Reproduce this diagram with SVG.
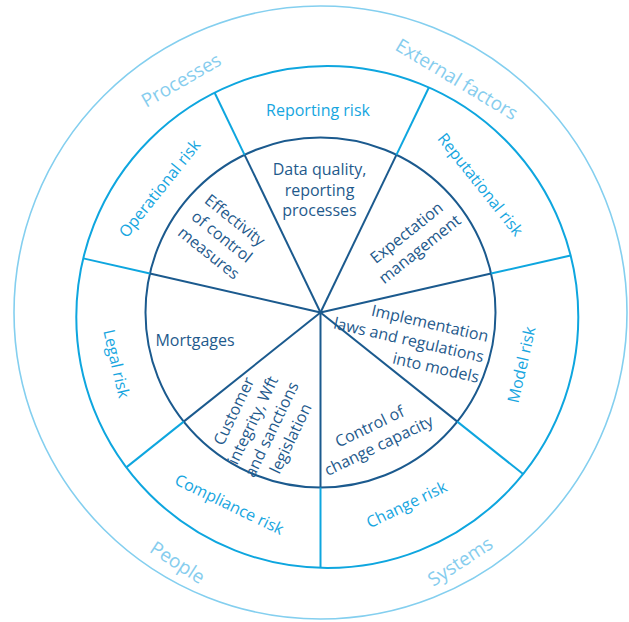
<svg xmlns="http://www.w3.org/2000/svg" width="629" height="622" viewBox="0 0 629 622">
<style>
  text { font-family: "Open Sans", "Liberation Sans", sans-serif; }
  .c-out { fill: none; stroke: #84cfef; stroke-width: 1.6; }
  .c-mid { fill: none; stroke: #0ea6df; stroke-width: 2; }
  .c-in { fill: none; stroke: #1b5a8e; stroke-width: 2; }
  .sp-in { stroke: #1b5a8e; stroke-width: 2; }
  .sp-out { stroke: #0ea6df; stroke-width: 2; }
  .t-in { fill: #1f5a8c; font-size: 16px; }
  .t-ring { fill: #17a6df; font-size: 16px; }
  .t-out { fill: #86cdee; font-size: 19px; }
</style>
<rect width="629" height="622" fill="#ffffff"/>
<g id="rings">
  <circle class="c-out" cx="320.5" cy="312.5" r="306.5"/>
  <circle class="c-mid" cx="327.3" cy="317" r="251"/>
  <circle class="c-in" cx="320.5" cy="312.5" r="175"/>
</g>
<g id="connectors">
  <g id="spokes-inner">
    <line class="sp-in" x1="320.5" y1="312.5" x2="320.5" y2="487.5"/>
    <line class="sp-in" x1="320.5" y1="312.5" x2="183.68" y2="421.61"/>
    <line class="sp-in" x1="320.5" y1="312.5" x2="149.89" y2="273.56"/>
    <line class="sp-in" x1="320.5" y1="312.5" x2="244.57" y2="154.83"/>
    <line class="sp-in" x1="320.5" y1="312.5" x2="396.43" y2="154.83"/>
    <line class="sp-in" x1="320.5" y1="312.5" x2="491.11" y2="273.56"/>
    <line class="sp-in" x1="320.5" y1="312.5" x2="457.32" y2="421.61"/>
  </g>
  <g id="spokes-outer">
    <line class="sp-out" x1="320.5" y1="487.5" x2="320.5" y2="567.91"/>
    <line class="sp-out" x1="183.68" y1="421.61" x2="126.32" y2="467.36"/>
    <line class="sp-out" x1="149.89" y1="273.56" x2="83.25" y2="258.35"/>
    <line class="sp-out" x1="244.57" y1="154.83" x2="214.65" y2="92.70"/>
    <line class="sp-out" x1="396.43" y1="154.83" x2="428.87" y2="87.46"/>
    <line class="sp-out" x1="491.11" y1="273.56" x2="570.63" y2="255.41"/>
    <line class="sp-out" x1="457.32" y1="421.61" x2="523.09" y2="474.06"/>
  </g>
</g>
<g id="outer-labels">
  <g id="processes"><text class="t-out" text-anchor="middle" transform="translate(184.5,86) rotate(-30)">Processes</text></g>
  <g id="external-factors"><text class="t-out" text-anchor="middle" transform="translate(453.4,85) rotate(31)">External factors</text></g>
  <g id="people"><text class="t-out" text-anchor="middle" transform="translate(174,568) rotate(33)">People</text></g>
  <g id="systems"><text class="t-out" text-anchor="middle" transform="translate(463.8,567) rotate(-33)">Systems</text></g>
</g>
<g id="ring-labels">
  <g id="reporting-risk"><text class="t-ring" text-anchor="middle" transform="translate(318,115.5)">Reporting risk</text></g>
  <g id="reputational-risk"><text class="t-ring" text-anchor="middle" transform="translate(476,188) rotate(51.43)">Reputational risk</text></g>
  <g id="model-risk"><text class="t-ring" text-anchor="middle" transform="translate(527,366) rotate(-77.14)">Model risk</text></g>
  <g id="change-risk"><text class="t-ring" text-anchor="middle" transform="translate(409,509.5) rotate(-25.71)">Change risk</text></g>
  <g id="compliance-risk"><text class="t-ring" text-anchor="middle" transform="translate(227,509.5) rotate(25.71)">Compliance risk</text></g>
  <g id="legal-risk"><text class="t-ring" text-anchor="middle" transform="translate(111,365) rotate(77.14)">Legal risk</text></g>
  <g id="operational-risk"><text class="t-ring" text-anchor="middle" transform="translate(164,192) rotate(-51.43)">Operational risk</text></g>
</g>
<g id="inner-labels">
  <g id="data-quality"><text class="t-in" text-anchor="middle" transform="translate(319.5,175)"><tspan x="0" dy="0">Data quality,</tspan><tspan x="0" dy="20.5">reporting</tspan><tspan x="0" dy="20.5">processes</tspan></text></g>
  <g id="expectation"><text class="t-in" text-anchor="middle" transform="translate(410,237) rotate(-38.57)"><tspan x="0" dy="0">Expectation</tspan><tspan x="0" dy="21">management</tspan></text></g>
  <g id="implementation"><text class="t-in" text-anchor="end" transform="translate(487,342) rotate(12.86)"><tspan x="0" dy="0">Implementation</tspan><tspan x="0" dy="21">laws and regulations</tspan><tspan x="0" dy="21">into models</tspan></text></g>
  <g id="control-change"><text class="t-in" text-anchor="middle" transform="translate(372,431.5) rotate(-25.71)"><tspan x="0" dy="0">Control of</tspan><tspan x="0" dy="21">change capacity</tspan></text></g>
  <g id="customer-integrity"><text class="t-in" text-anchor="middle" transform="translate(238.8,413.6) rotate(-64.29)"><tspan x="0" dy="0">Customer</tspan><tspan x="0" dy="21">integrity, Wft</tspan><tspan x="0" dy="21">and sanctions</tspan><tspan x="0" dy="21">legislation</tspan></text></g>
  <g id="mortgages"><text class="t-in" text-anchor="middle" transform="translate(195,346)">Mortgages</text></g>
  <g id="effectivity"><text class="t-in" text-anchor="middle" transform="translate(231.5,224.5) rotate(38.57)"><tspan x="0" dy="0">Effectivity</tspan><tspan x="0" dy="21">of control</tspan><tspan x="0" dy="21">measures</tspan></text></g>
</g>
</svg>
